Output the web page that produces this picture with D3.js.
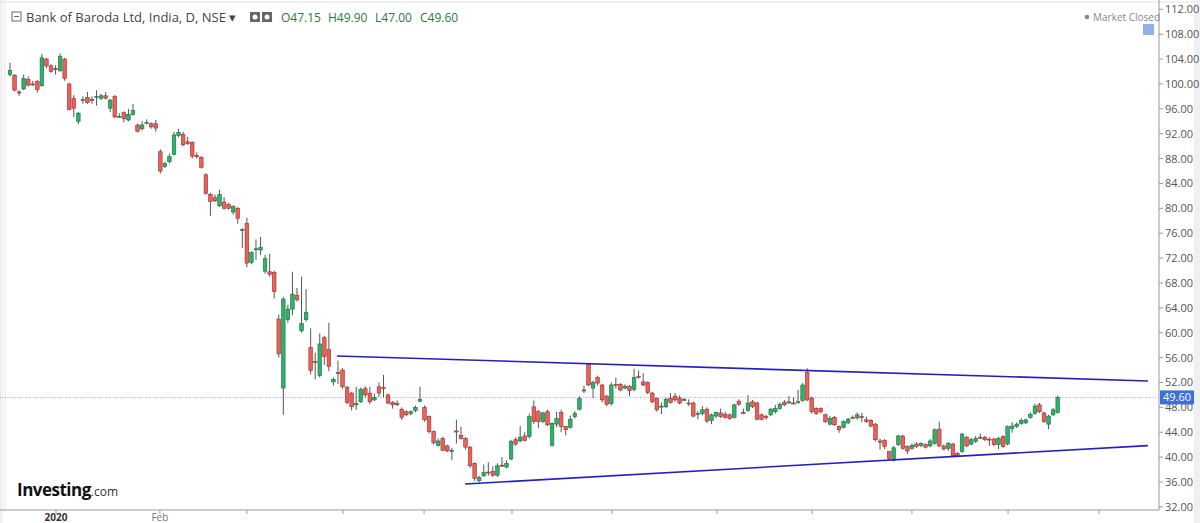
<!DOCTYPE html>
<html>
<head>
<meta charset="utf-8">
<script src="https://cdn.jsdelivr.net/npm/d3@7"></script>
<style>
  body { margin:0; background:#fff; font-family:"Open Sans", Arial, sans-serif; }
  svg text { font-family:"Open Sans", Arial, sans-serif; }
</style>
</head>
<body>
<script>
// daily candles, Dec 2019 .. Nov 2020
const opens = [101.5,101.4,98.7,99.2,100.7,100,100.4,99.7,104,102.9,102.5,102.1,104,100,97.7,94,97.4,97.8,97.5,98,97.7,98.1,96.1,98,94.8,95.4,94.2,95.1,93.4,92.8,93.8,93.6,93.6,89.1,86.7,87.5,88.7,91.7,91.9,90.7,90.6,88.5,88.2,85.4,82.2,81.7,80.4,81,80.6,79.4,80,
  76.5,77.6,71.3,73.4,73.3,69.9,69.8,69.7,62.2,51.1,62.1,63.8,66,60.3,62.1,57.6,55.4,53.1,59.2,57.3,52.1,53.6,54,51.2,50.3,48.4,48.9,51,50.3,49.2,51.3,51.2,50,48.8,48.6,47.7,47.3,47,47.5,49,
  48,46.5,44.1,41.9,43,41.8,40.9,44.2,43.5,43,41.6,39,36.2,37,37.6,37.7,37.1,38.7,38.4,39.7,42.8,42.6,43.4,43.3,48.1,47.3,45.7,47.3,41.9,45.3,47.2,44.9,44.8,46.5,47.7,50.8,54.9,51.1,52.8,51.6,49.8,48.6,51.7,51.7,51.1,51.4,50.9,53,52.1,52,50.3,49.4,
  48.1,48.1,49.5,49.8,49.5,49.1,48.7,48.7,47,47,47.7,45.9,46.6,47.1,46.9,46.8,46.4,49,47.2,47.5,48.9,48.7,46.8,46.5,46.8,47.3,47.8,48.8,48.7,48.7,48.8,49.1,53.6,49.5,47.8,47.8,46.8,45.3,46.4,44.9,44.8,45.5,46.4,46.3,46.5,46,45.9,45.3,
  42.6,42.7,40.9,39.5,42,43.4,41.7,41.4,42.1,41.9,42,41.8,42.2,44.5,41.8,41.4,42.1,40.6,40.9,43.2,42.1,42.5,43.2,43.2,42.9,42.9,42,43.3,42.1,44.6,44.9,45.4,45.5,46.4,47,48.4,47.1,45.3,46.8,47.15]
const closes = [102.2,99,98.6,100.9,99.8,99.9,99.1,104.2,102.9,102,102.3,104.4,100.9,95.9,96.1,95.3,97.5,97,97.4,98,98.1,97.7,97.4,94.7,94.8,94.4,95.1,95.7,92.4,93.4,93.8,93.1,92.9,86,87.2,88.3,91.8,92.2,90.2,90.4,88.4,88.3,86.6,82.4,81.1,81.2,82.2,80,80,80.3,78.4,
  76.6,71.2,72.9,73.5,73.7,71.9,69.4,66.6,56.6,65.4,63.8,66.2,65.3,61.5,63.3,53.9,55.3,58.2,56.2,54.6,52.5,53.5,51.3,48.8,48.1,48.6,50.9,50,48.9,49.6,50.3,51.1,48.7,48.4,48.5,46.4,46.8,47.3,48,49.3,
  46,44.1,42.3,42.6,41.1,41,41.1,44.1,43,41.6,38.6,36.6,36.7,37.5,37.5,37.1,38.6,38.6,39,42.5,42.1,43.2,42.7,46.5,45.7,45.7,47.1,45.2,45.4,46.2,44.9,44.4,46.1,47,49.4,50.7,51.6,52,51.9,49.2,48.5,51.6,51.6,50.8,51.4,50.7,52.8,52.9,51.6,50.4,48.9,47.6,
  48.2,49.3,48.8,49.2,48.7,49.3,48.6,46.6,47,47.6,45.8,46.8,47.2,46.5,46.4,46.2,48.4,48.5,47.1,48.7,48.1,46.1,46.1,46.4,47.7,47.8,48.5,48.4,48.9,48.6,48.9,51.6,49.2,47.3,47,47.3,45.7,46.2,45.2,44.4,45.7,46.1,46.3,46.8,46.4,45.7,45,42.8,
  42.4,41.7,39.8,41.5,43.4,41.4,41,41.9,41.7,42.2,41.6,42.6,44.4,41.8,41.3,42.2,40.2,40.2,43.7,41.8,42.8,43,43.1,42.8,42.8,42,43,41.7,44.9,45,45.3,45.9,46,46.9,48.2,47.3,45.7,46.6,47.6,49.6]
const highs = [103.4,101.6,99,101.5,101.2,100.5,100.6,104.8,104.2,103.2,103,104.9,104.2,100.2,98.2,95.5,98,98.7,98,99,98.4,98.7,97.6,98.2,95.3,95.6,96,96.8,93.6,94,94.3,93.8,94.2,89.5,87.5,88.8,92.3,92.8,92.3,91.5,90.8,89,88.4,85.6,82.5,82.2,83,81.8,80.9,80.5,80.2,
  76.8,78.5,73.1,75,75.4,72.5,72.7,70,62.9,65.8,64.5,69.8,67.2,69,67,60.7,56.8,59.9,59.5,61.6,52.8,55.5,54.3,51.5,50.5,51.3,51.2,51.4,51.3,50.2,52,53.2,50.2,49,49.1,48,47.5,47.5,48.3,51.3,
  48.3,46.7,44.3,43,43.3,42,41.5,46,44.9,43.2,41.8,39.2,37,38.8,39.2,38.5,39,40,39.5,42.8,43.2,45,44,47,49.1,47.6,47.3,47.6,45.6,47.3,47.6,45,46.7,47.4,49.8,51.5,55,52.3,53.1,51.8,50,52,52.8,51.9,51.7,51.6,54.2,53.9,53.5,52.2,50.5,49.6,
  48.8,49.6,50.3,50.3,49.9,49.5,49.3,48.9,47.4,48.2,48,47,47.3,47.8,47.3,47,48.6,49.3,47.8,50,49.2,48.9,47,46.8,47.9,48.4,48.8,49.2,49.8,49.6,50.8,51.9,54.3,49.7,48,48,47,46.6,46.6,45.1,45.9,46.3,46.7,47.2,47.1,46.5,46.1,45.5,
  43,42.9,41,41.8,43.6,43.6,41.9,42.2,42.4,42.4,42.2,42.9,44.6,45.7,42,42.4,42.3,40.8,43.9,43.4,43.1,43.4,43.8,43.4,43.2,43.1,43.3,43.5,45.1,45.6,45.6,46.3,46.2,47.2,48.6,48.7,47.3,46.8,47.9,49.9]
const lows = [101.2,98.8,98.1,99,99.6,99.7,98.6,99.6,102.5,101.8,101.5,102,100.5,95.7,94.7,93.5,96.8,96.8,96.8,96.5,97.4,97.5,95.5,94.5,94.6,93.8,94,94.9,92.2,92.5,93.5,92.8,92.3,85.6,86.5,87.2,88.5,91.4,90,90.2,88,88,86.4,82.2,78.8,81,80.2,79.8,79.8,79,77.5,
  73.6,70.5,71,71.7,72.5,69.5,69,65.5,56,46.8,61.6,62.8,65,60,61.8,53.3,52.5,52.8,54.8,53.8,51.5,51.8,51,48.5,47.5,47.6,48.7,49.6,48.5,49,49.7,49.6,48.5,47.8,48.2,46,46.6,46.7,47.2,48.8,
  45.7,43.8,42,41.7,41,40.8,39.5,42.2,42.8,41.2,38.3,36.2,36,36.8,37,36.8,36.8,38.5,38.2,39.5,41.8,42.4,42.5,43,45.3,44.7,45.5,45,41.7,44.8,44,43.5,44.6,46.2,47.5,50.3,51.4,49.5,51.5,48.8,48.2,48.3,51,50.6,50.9,49.8,50.6,52.6,51.4,50.1,48.7,47.3,
  46.9,47.9,48.6,48.9,48.5,49,48.2,46.4,46.1,46.7,45.5,45.3,46.3,46.3,46.2,46,46.2,48.3,46.9,47.3,47.9,45.9,45.9,46,46.6,47,47.6,48.2,48.6,48.5,48.6,48.9,49,47,46.8,47,45.5,45.1,45,43.9,44.6,45.3,46.1,46,45.6,45.5,44.8,42.5,
  41.2,41.3,39.5,39.3,41.8,41.2,40.5,41.2,41.5,41.6,41.4,41.6,42,41.6,41.1,41,40,40,40.7,41.6,41.9,42.3,42.9,42.6,41.8,41.8,41.3,41.5,41.9,43.9,44.7,45.2,45.3,46.2,46.8,47.1,45.5,44.5,46.6,47]

const priceTicks = [112,108,104,100,96,92,88,84,80,76,72,68,64,60,56,52,48,44,40,36,32]
// month ticks as candle index
const monthIdx = [10.1,32.9,52,73.1,90.9,110.2,132.2,155.2,176.1,198,219.1,239.1]
const monthLabels = ["2020","Feb","","","","","","","","","",""]
// trend lines: [index, price]
const upperLine = [[71.8,56.26],[249.8,52.24]]
const lowerLine = [[99.9,35.68],[249.8,41.85]]
const lastPrice = 49.6

const W = 1200, H = 523
const plotR = 1159, plotB = 510

const svg = d3.select("body").append("svg").attr("width",W).attr("height",H)

svg.append("rect").attr("width",W).attr("height",H).attr("fill","#fff")
svg.append("rect").attr("x",1194).attr("width",6).attr("height",H).attr("fill","#eef0f2")
svg.append("rect").attr("x",0).attr("width",3).attr("height",H).attr("fill","#eef0f2")
svg.append("line").attr("x1",5).attr("x2",5).attr("y1",0).attr("y2",plotB).attr("stroke","#e3e3e3")
svg.append("line").attr("x1",0).attr("x2",1194).attr("y1",2).attr("y2",2).attr("stroke","#e3e3e3")

const x = d3.scaleLinear().domain([0,230]).range([10,1057.7])
const y = d3.scaleLinear().domain([36,112]).range([482,9.3])

// axes
svg.append("line").attr("x1",plotR).attr("x2",plotR).attr("y1",0).attr("y2",plotB).attr("stroke","#999")
svg.append("line").attr("x1",0).attr("x2",plotR).attr("y1",plotB).attr("y2",plotB).attr("stroke","#999")

const yAx = svg.append("g")
yAx.selectAll("line").data(priceTicks).enter().append("line")
  .attr("x1",plotR).attr("x2",plotR+4).attr("y1",d=>y(d)).attr("y2",d=>y(d)).attr("stroke","#999")
yAx.selectAll("text").data(priceTicks).enter().append("text")
  .attr("x",plotR+6).attr("y",d=>y(d)+4).attr("font-size",11).attr("fill","#555")
  .text(d=>d.toFixed(2))

const xAx = svg.append("g")
xAx.selectAll("line").data(monthIdx).enter().append("line")
  .attr("x1",d=>x(d)).attr("x2",d=>x(d)).attr("y1",plotB).attr("y2",plotB+4).attr("stroke","#999")
xAx.selectAll("text").data(monthIdx).enter().append("text")
  .attr("x",d=>x(d)).attr("y",plotB+11).attr("text-anchor","middle").attr("font-size",10)
  .attr("fill",(d,i)=> i==0 ? "#333" : "#777").attr("font-weight",(d,i)=> i==0 ? "bold":"normal")
  .text((d,i)=>monthLabels[i])

// last price dotted line
svg.append("line").attr("x1",0).attr("x2",plotR).attr("y1",y(lastPrice)).attr("y2",y(lastPrice))
  .attr("stroke","#8fb0e6").attr("stroke-dasharray","1,1.5").attr("stroke-width",1)

// candles
const data = closes.map((c,i)=>({i, o:opens[i], h:highs[i], l:lows[i], c}))
const up = "#2db26b", down = "#e8625c"
const g = svg.append("g")
g.selectAll("line.wick").data(data).enter().append("line")
  .attr("x1",d=>x(d.i)).attr("x2",d=>x(d.i)).attr("y1",d=>y(d.h)).attr("y2",d=>y(d.l))
  .attr("stroke","#555").attr("stroke-width",1)
g.selectAll("rect").data(data).enter().append("rect")
  .attr("x",d=>x(d.i)-1.8).attr("width",3.6)
  .attr("y",d=>y(Math.max(d.o,d.c)))
  .attr("height",d=>Math.max(1,Math.abs(y(d.o)-y(d.c))))
  .attr("fill",d=> d.c>=d.o ? up : down)
  .attr("stroke",d=> d.c>=d.o ? "#1b6e42" : "#9b2f2a").attr("stroke-width",0.6)

// trend lines
const tl = d3.line().x(d=>x(d[0])).y(d=>y(d[1]))
;[upperLine, lowerLine].forEach(l=>{
  svg.append("path").attr("d",tl(l)).attr("stroke","#2020c8").attr("stroke-width",1.6).attr("fill","none")
})

// price label
svg.append("rect").attr("x",plotR+1).attr("y",y(lastPrice)-7).attr("width",34).attr("height",14).attr("fill","#3d6fd8")
svg.append("text").attr("x",plotR+4).attr("y",y(lastPrice)+4).attr("font-size",11).attr("fill","#fff").text(lastPrice.toFixed(2))

// header
svg.append("rect").attr("x",12).attr("y",12).attr("width",9).attr("height",9).attr("fill","none").attr("stroke","#666")
svg.append("line").attr("x1",14).attr("x2",19).attr("y1",16.5).attr("y2",16.5).attr("stroke","#666")
svg.append("text").attr("x",26).attr("y",22).attr("font-size",13).attr("fill","#444")
  .text("Bank of Baroda Ltd, India, D, NSE \u25BE")
svg.append("rect").attr("x",250).attr("y",12).attr("width",10).attr("height",10).attr("fill","#666")
svg.append("rect").attr("x",262).attr("y",12).attr("width",10).attr("height",10).attr("fill","#666")
svg.append("circle").attr("cx",255).attr("cy",17).attr("r",2.5).attr("fill","#fff")
svg.append("circle").attr("cx",267).attr("cy",17).attr("r",2.5).attr("fill","#fff")
const ohlc = [["O","47.15",281],["H","49.90",328],["L","47.00",375],["C","49.60",420]]
ohlc.forEach(([k,v,px])=>{
  svg.append("text").attr("x",px).attr("y",22).attr("font-size",12).attr("fill","#2a7a3a").text(k+v)
})

svg.append("circle").attr("cx",1087).attr("cy",17).attr("r",2.3).attr("fill","#888")
svg.append("text").attr("x",1093).attr("y",21).attr("font-size",10).attr("fill","#888").text("Market Closed")
svg.append("rect").attr("x",1143).attr("y",24).attr("width",11).attr("height",11).attr("fill","#8fb1e8")

// logo
const logo = svg.append("text").attr("x",17).attr("y",496)
logo.append("tspan").attr("font-size",17).attr("font-weight","bold").attr("fill","#111").attr("letter-spacing","-0.5").text("Investing")
logo.append("tspan").attr("font-size",12).attr("fill","#333").text(".com")
</script>
</body>
</html>
